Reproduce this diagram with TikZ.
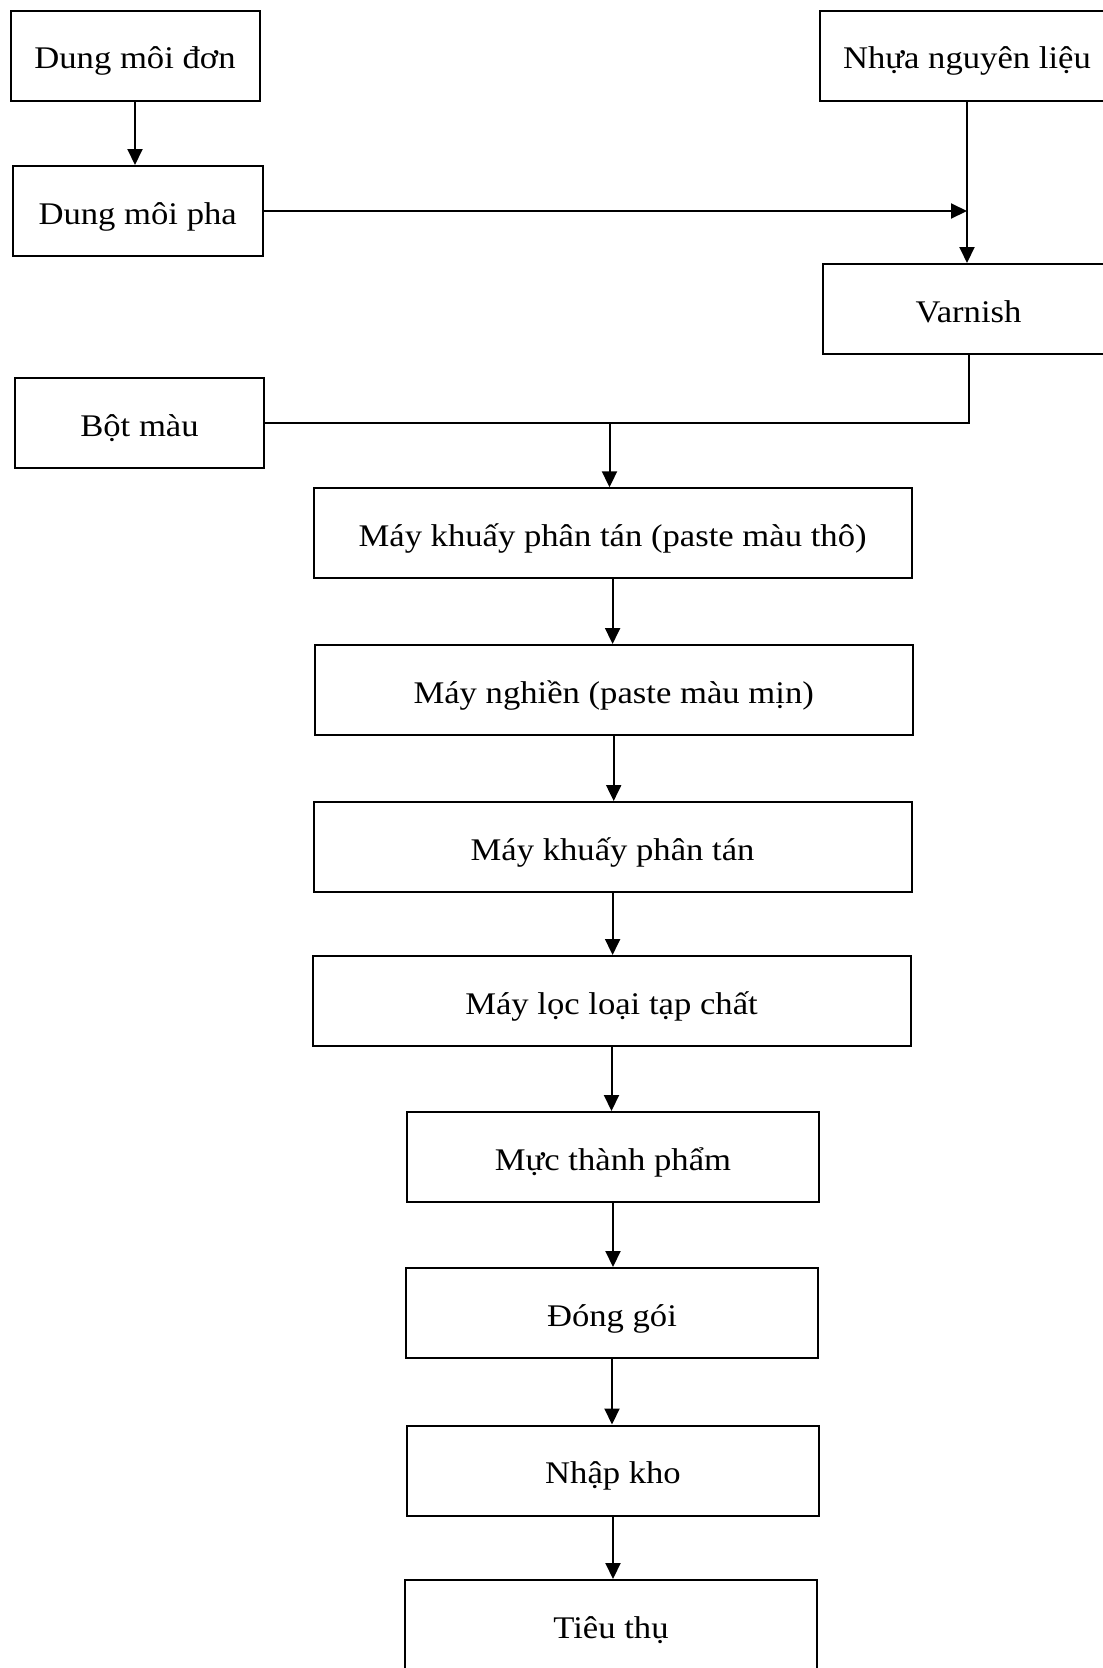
\documentclass[tikz,border=0pt]{standalone}
\usepackage{fontspec}
\setmainfont{Liberation Serif}[FakeStretch=1.1]
\usetikzlibrary{arrows.meta}
\begin{document}
\begin{tikzpicture}[x=1pt,y=-1pt,
  box/.style={draw, line width=2pt, minimum height=90pt, inner sep=0pt,
    text height=28.4pt, text depth=2.4pt,
    font=\fontsize{31.5}{38}\selectfont},
  conn/.style={line width=2pt},
  arr/.style={conn, -{Triangle[length=16pt,width=15pt]}}]
\useasboundingbox (0,0) rectangle (1103,1668);
\clip (0,0) rectangle (1103,1668);
\fill[white] (0,0) rectangle (1103,1668);

\node[box, minimum width=249pt] (dmdon) at (135,55.8) {Dung môi đơn};
\node[box, minimum width=250pt] (dmpha) at (137.7,211) {Dung môi pha};
\node[box, minimum width=294pt] (nhua) at (967,55.8) {Nhựa nguyên liệu};
\node[box, minimum width=291pt] (varnish) at (968.5,309) {Varnish};
\node[box, minimum width=249pt] (botmau) at (139.5,423) {Bột màu};

\node[box, minimum width=598pt] (m1) at (612.6,533.3) {Máy khuấy phân tán (paste màu thô)};
\node[box, minimum width=598pt] (m2) at (613.7,690) {Máy nghiền (paste màu mịn)};
\node[box, minimum width=598pt] (m3) at (612.6,847) {Máy khuấy phân tán};
\node[box, minimum width=598pt] (m4) at (611.5,1001) {Máy lọc loại tạp chất};
\node[box, minimum width=412pt] (m5) at (613,1157) {Mực thành phẩm};
\node[box, minimum width=412pt] (m6) at (612,1313) {Đóng gói};
\node[box, minimum width=412pt] (m7) at (613,1470.5) {Nhập kho};
\node[box, minimum width=412pt] (m8) at (611,1625) {Tiêu thụ};

\draw[arr] (dmdon.south) -- (dmdon.south |- dmpha.north);
\draw[arr] (nhua.south) -- (nhua.south |- varnish.north);
\draw[arr] (dmpha.east) -- (dmpha.east -| nhua.south);
\draw[conn] (botmau.east) -- (botmau.east -| varnish.south) -- (varnish.south);
\coordinate (j) at (609.5,423);
\draw[arr] (j) -- (j |- m1.north);
\draw[arr] (m1.south) -- (m1.south |- m2.north);
\draw[arr] (m2.south) -- (m2.south |- m3.north);
\draw[arr] (m3.south) -- (m3.south |- m4.north);
\draw[arr] (m4.south) -- (m4.south |- m5.north);
\draw[arr] (m5.south) -- (m5.south |- m6.north);
\draw[arr] (m6.south) -- (m6.south |- m7.north);
\draw[arr] (m7.south) -- (m7.south |- m8.north);
\end{tikzpicture}
\end{document}
